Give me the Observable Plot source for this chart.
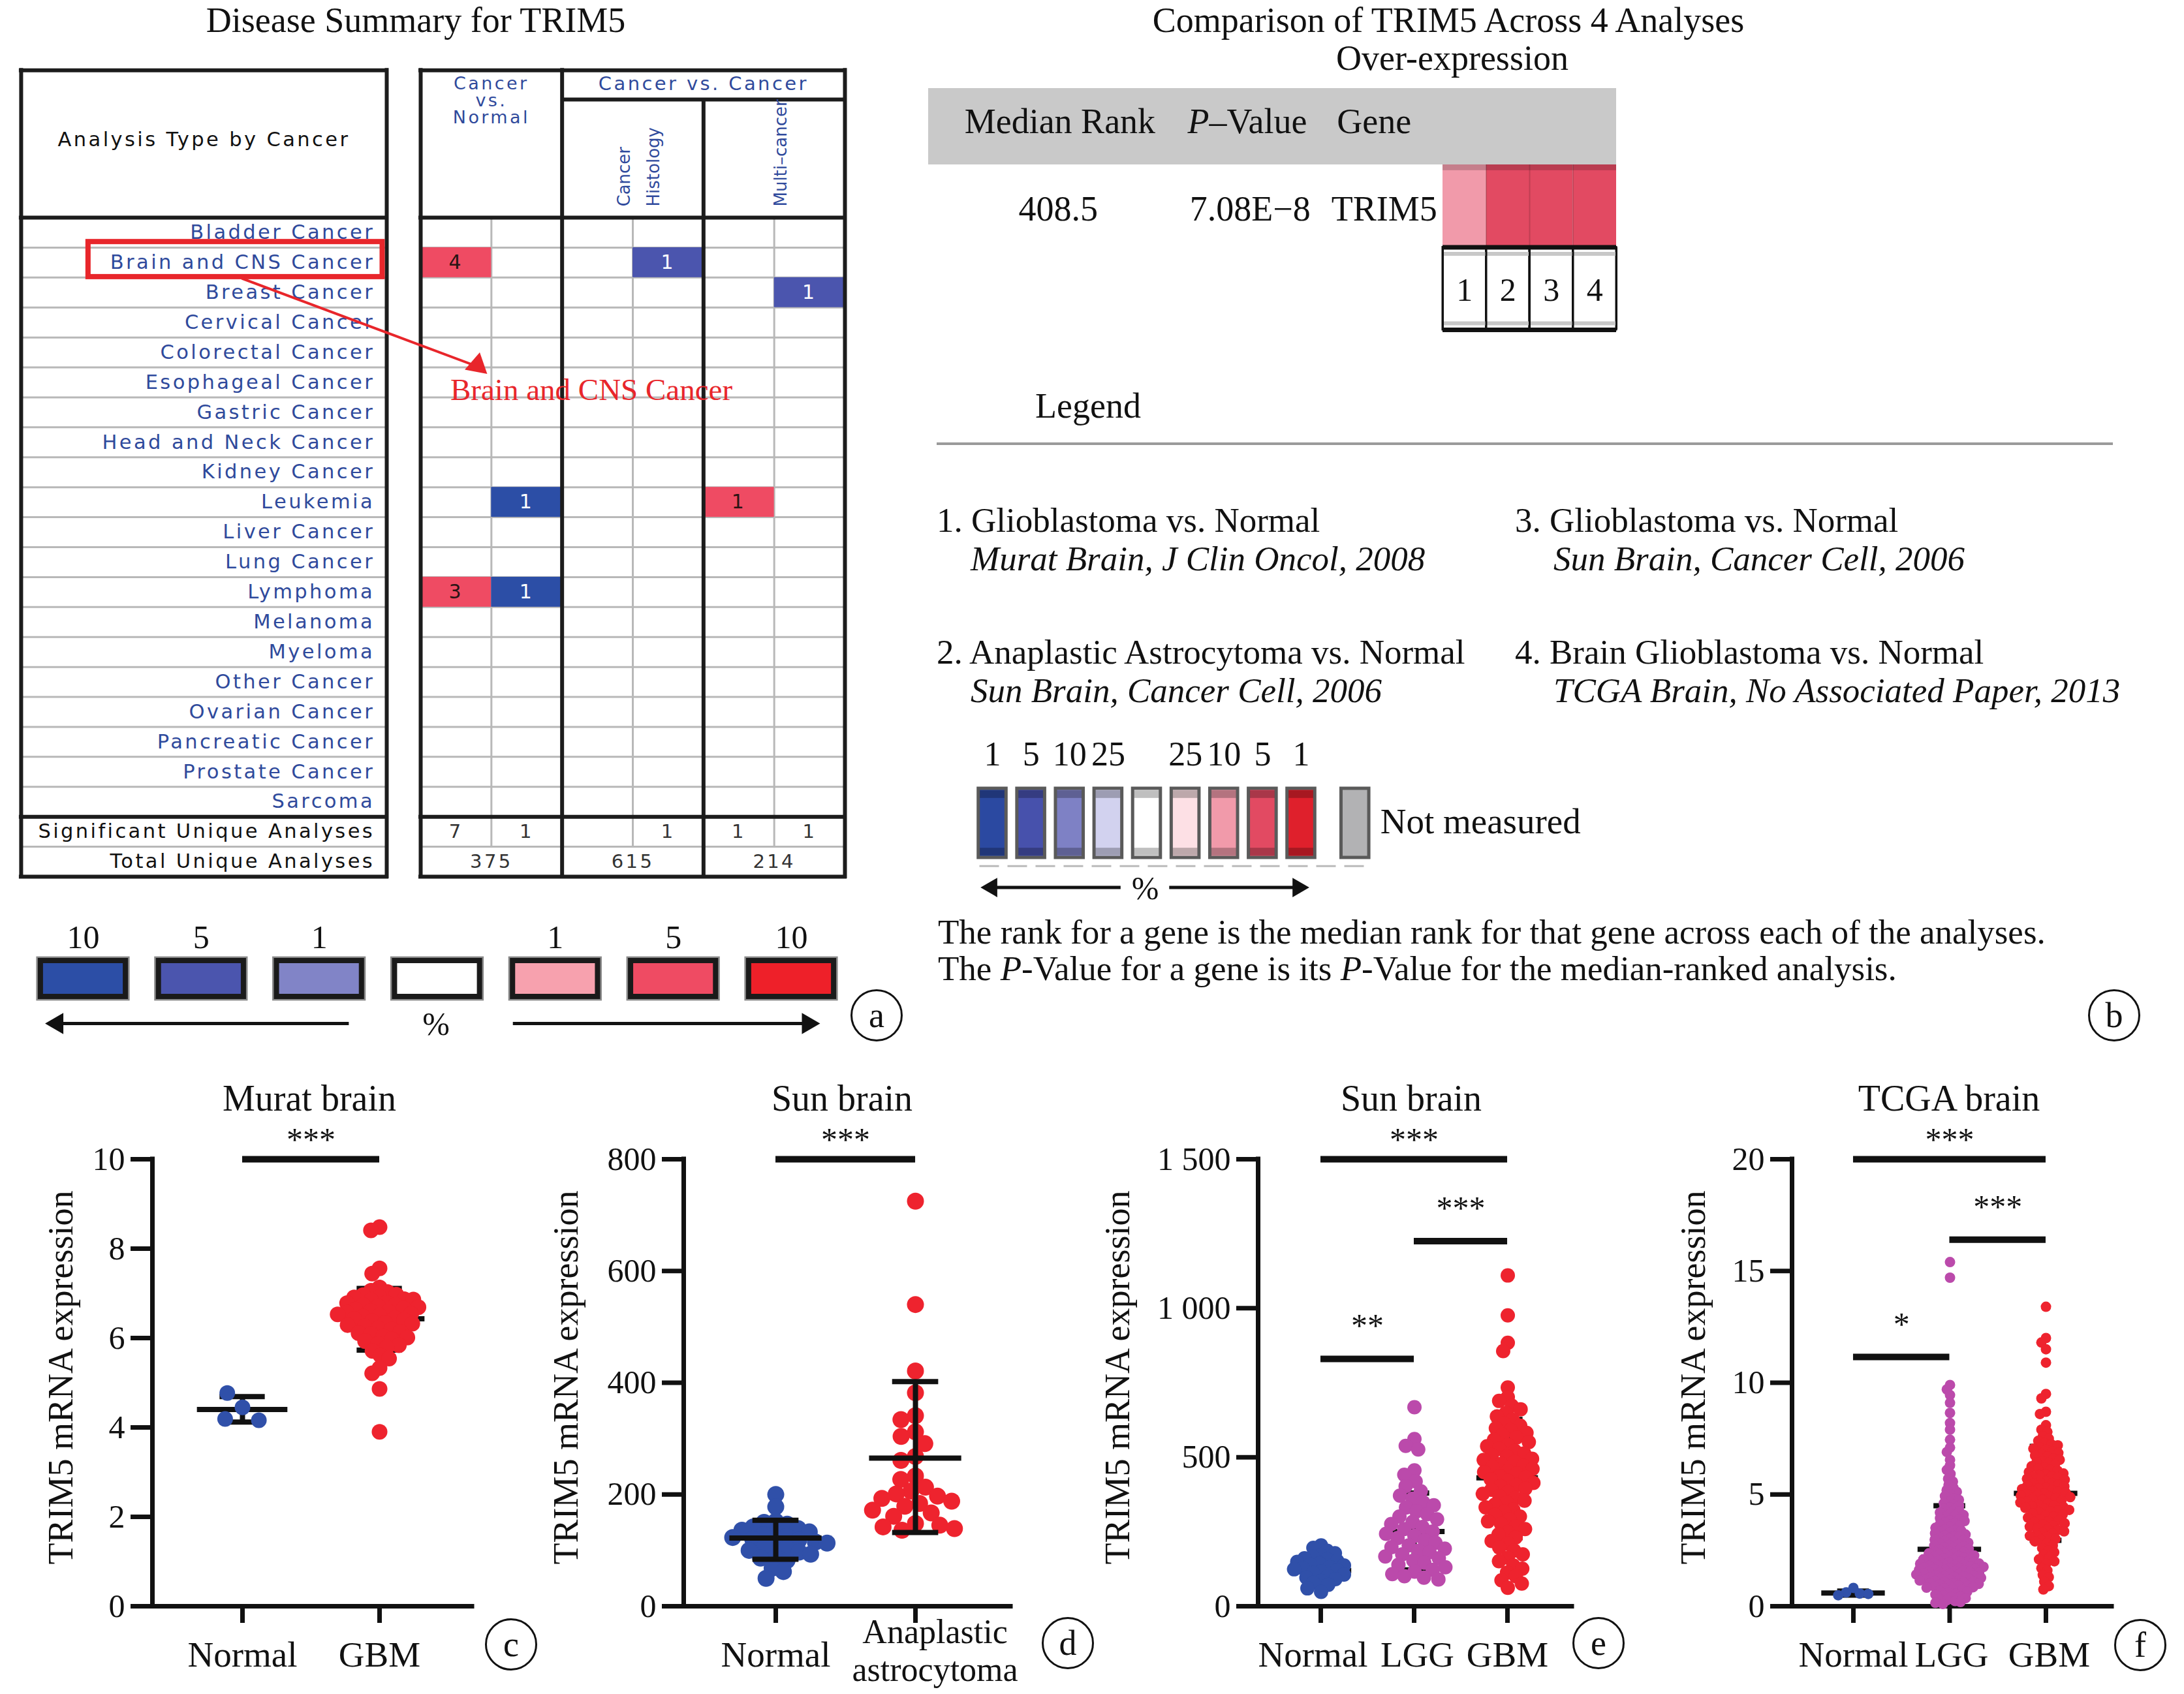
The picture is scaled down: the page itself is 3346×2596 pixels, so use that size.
<!DOCTYPE html>
<html>
<head>
<meta charset="utf-8">
<script src="https://cdn.jsdelivr.net/npm/d3@7"></script>
<script src="https://cdn.jsdelivr.net/npm/@observablehq/plot@0.6"></script>
<style>
html,body{margin:0;padding:0;background:#fff;}
#page{position:relative;width:3346px;height:2596px;overflow:hidden;background:#fff;font-family:"Liberation Serif",serif;color:#111;}
.t{position:absolute;white-space:nowrap;line-height:1;font-family:"Liberation Serif",serif;color:#111;}
.circ{position:absolute;border:3px solid #111;border-radius:50%;display:flex;align-items:center;justify-content:center;font-family:"Liberation Serif",serif;box-sizing:border-box;background:#fff;line-height:1;}
</style>
</head>
<body>
<div id="page"></div>
<script>
// ================= DATA =================
// Panel a: disease summary
const cancers = ["Bladder Cancer","Brain and CNS Cancer","Breast Cancer","Cervical Cancer","Colorectal Cancer","Esophageal Cancer","Gastric Cancer","Head and Neck Cancer","Kidney Cancer","Leukemia","Liver Cancer","Lung Cancer","Lymphoma","Melanoma","Myeloma","Other Cancer","Ovarian Cancer","Pancreatic Cancer","Prostate Cancer","Sarcoma"];
const summaryRows = ["Significant Unique Analyses","Total Unique Analyses"];
const analysisTypes = ["Cancer vs. Normal","Cancer Histology","Multi-cancer"];
// significant cells (column: 0/1 = CvN up/down, 2/3 = Histology up/down, 4/5 = Multi-cancer up/down)
const sigCancer = ["Brain and CNS Cancer","Brain and CNS Cancer","Breast Cancer","Leukemia","Leukemia","Lymphoma","Lymphoma"];
const sigColumn = [0,3,5,1,4,0,1];
const sigCount  = [4,1,1,1,1,3,1];
const sigLevel  = ["up 5","down 5","down 5","down 10","up 5","up 5","down 10"];
const significantCounts = [7,1,null,1,1,1];
const totalCounts = [375,615,214];
const scaleALabels = ["10","5","1","","1","5","10"];
const scaleALevels = ["down 10","down 5","down 1","none","up 1","up 5","up 10"];
const scaleAColors = ["#2c4ea6","#4b55ae","#8184c7","#ffffff","#f7a1ae","#ef4b63","#ee2029"];

// Panel b: comparison across 4 analyses
const bHeader = ["Median Rank","P–Value","Gene"];
const bValues = ["408.5","7.08E−8","TRIM5"];
const bAnalysisIds = ["1","2","3","4"];
const bAnalysisLevel = ["10","5","5","5"];
const bScaleLabels = ["1","5","10","25","","25","10","5","1"];
const bScaleKeys = ["down 1","down 5","down 10","down 25","none","25","10","5","1"];
const bScaleColors = ["#2b49a1","#4751ac","#7e81c5","#d2d2ef","#ffffff","#fde0e5","#f19aaa","#e24a62","#df202c"];
const bNotMeasuredColor = "#b2b2b4";
const bLegendTitles = ["1. Glioblastoma vs. Normal","2. Anaplastic Astrocytoma vs. Normal","3. Glioblastoma vs. Normal","4. Brain Glioblastoma vs. Normal"];
const bLegendSources = ["Murat Brain, J Clin Oncol, 2008","Sun Brain, Cancer Cell, 2006","Sun Brain, Cancer Cell, 2006","TCGA Brain, No Associated Paper, 2013"];

// Panel c: Murat brain
const cGroups = ["Normal","GBM"];
const cNormal = [4.45,4.77,4.19,4.16];
const cGBM = [8.48,8.41,7.56,7.44,7.13,7.06,7.03,6.97,6.96,6.92,6.91,6.87,6.86,6.84,6.79,6.78,6.75,6.74,6.71,6.69,6.66,6.64,6.6,6.59,6.57,6.54,6.53,6.5,6.48,6.45,6.43,6.41,6.38,6.34,6.32,6.29,6.26,6.21,6.19,6.14,6.11,6.09,6.04,6.01,5.97,5.93,5.87,5.84,5.79,5.71,5.61,5.54,5.33,5.21,4.86,3.9];
const cMean = [4.40,6.43], cSdLow = [4.12,5.73], cSdHigh = [4.69,7.11];
const cCompFrom = [0], cCompTo = [1], cCompY = [10], cCompStars = ["***"];

// Panel d: Sun brain (anaplastic astrocytoma)
const dGroups = ["Normal","Anaplastic\nastrocytoma"];
const dNormal = [200,178,152,150,147,142,139,136,133,131,128,125,123,120,118,115,113,110,106,104,100,97,93,88,86,82,68,62,50];
const dAnaplastic = [725,540,421,382,341,334,312,304,291,268,261,233,227,213,206,201,197,193,188,184,179,172,167,161,148,145,142,139,136];
const dMean = [122,265], dSdLow = [84,132], dSdHigh = [154,402];
const dCompFrom = [0], dCompTo = [1], dCompY = [800], dCompStars = ["***"];

// Panel e: Sun brain (LGG / GBM)
const eGroups = ["Normal","LGG","GBM"];
const eNormal = [204,196,186,178,171,166,161,157,152,149,144,140,137,131,128,124,121,116,111,106,101,96,91,85,79,72,60,48];
const eLGG = [668,561,538,526,456,441,419,403,386,371,361,349,339,331,318,309,301,292,283,276,266,259,251,243,236,229,221,213,204,198,193,186,181,174,167,161,153,146,139,131,122,116,108,101,96,90];
const eGBM = [1110,976,884,856,734,702,689,673,661,648,637,626,614,606,597,591,582,574,566,559,551,542,537,528,521,513,508,503,495,491,484,478,471,467,461,454,450,445,437,433,426,421,414,407,402,395,391,383,377,369,363,354,348,341,332,324,317,307,301,291,285,276,267,259,249,241,231,219,211,197,187,174,163,151,137,126,113,101,87,76,62];
const eMean = [120,251,431], eSdLow = [81,122,230], eSdHigh = [157,380,627];
const eCompFrom = [0,1,0], eCompTo = [2,2,1], eCompY = [1500,1225,830], eCompStars = ["***","***","**"];

// Panel f: TCGA brain
const fGroups = ["Normal","LGG","GBM"];
const fNormal = [0.82,0.62,0.57,0.55,0.49];
const fLGG = [15.4,14.7,9.9,9.7,9.45,9.1,8.65,8.2,7.9,7.45,7.1,6.9,6.55,6.3,6.1,5.92,5.7,5.58,5.43,5.31,5.2,5.12,5.01,4.93,4.82,4.76,4.68,4.61,4.55,4.49,4.41,4.36,4.29,4.24,4.19,4.13,4.08,4.04,3.99,3.94,3.9,3.84,3.81,3.74,3.7,3.66,3.6,3.56,3.51,3.44,3.41,3.37,3.34,3.29,3.26,3.21,3.17,3.14,3.11,3.06,3.01,2.98,2.94,2.91,2.87,2.84,2.81,2.77,2.74,2.71,2.67,2.64,2.61,2.57,2.55,2.51,2.47,2.44,2.42,2.39,2.37,2.34,2.31,2.29,2.27,2.24,2.21,2.19,2.17,2.14,2.12,2.1,2.07,2.04,2.02,2.0,1.98,1.96,1.93,1.91,1.9,1.87,1.85,1.83,1.81,1.79,1.77,1.76,1.73,1.71,1.7,1.67,1.65,1.63,1.61,1.6,1.57,1.55,1.53,1.51,1.5,1.47,1.45,1.43,1.42,1.39,1.37,1.35,1.33,1.31,1.29,1.27,1.25,1.23,1.21,1.19,1.17,1.15,1.13,1.11,1.09,1.07,1.04,1.02,1.0,0.97,0.94,0.92,0.9,0.87,0.85,0.83,0.8,0.76,0.73,0.69,0.65,0.61,0.56,0.52,0.48,0.45,0.41,0.36,0.32,0.27,0.23,0.19,0.15,0.1];
const fGBM = [13.4,12.0,11.8,11.5,10.9,9.5,9.3,8.7,8.6,8.1,7.9,7.8,7.6,7.5,7.4,7.3,7.24,7.2,7.1,7.05,7.0,6.92,6.86,6.8,6.74,6.7,6.61,6.55,6.5,6.44,6.41,6.32,6.26,6.21,6.15,6.1,6.06,6.0,5.94,5.9,5.86,5.81,5.78,5.74,5.7,5.66,5.6,5.56,5.51,5.48,5.44,5.4,5.36,5.31,5.28,5.24,5.2,5.16,5.11,5.08,5.04,5.01,4.97,4.94,4.9,4.88,4.84,4.8,4.76,4.71,4.68,4.64,4.6,4.55,4.51,4.48,4.44,4.4,4.36,4.31,4.28,4.24,4.2,4.15,4.1,4.05,4.0,3.96,3.9,3.85,3.8,3.76,3.71,3.65,3.6,3.56,3.5,3.45,3.41,3.35,3.3,3.26,3.2,3.15,3.1,3.01,2.95,2.9,2.8,2.71,2.6,2.5,2.41,2.3,2.2,2.1,2.01,1.9,1.7,1.6,1.4,1.3,1.1,0.9,0.75];
const fMean = [0.59,2.55,5.05], fSdLow = [0.5,0.6,2.95], fSdHigh = [0.68,4.5,7.15];
const fCompFrom = [0,1,0], fCompTo = [2,2,1], fCompY = [20,16.4,11.15], fCompStars = ["***","***","*"];

// ================= HELPERS =================
const SERIF = "Liberation Serif";
const SANS = "DejaVu Sans";
const SANS_NARROW = "DejaVu Sans, sans-serif";
const LBLUE = "#2f4a9c";
const page = document.getElementById("page");
const PSTYLE = "background:transparent;overflow:visible;max-width:none;font-family:'Liberation Serif',serif;color:#111;";

function place(node, left, top) {
  const d = document.createElement("div");
  d.style.cssText = `position:absolute;left:${left}px;top:${top}px;width:${node.getAttribute("width")}px;`;
  d.appendChild(node);
  page.appendChild(d);
  return d;
}
function txt(str, x, y, opts = {}) {
  const {size = 54, anchor = "middle", style = "", html = false} = opts;
  const d = document.createElement("div");
  d.className = "t";
  const tx = anchor === "middle" ? "-50%" : anchor === "end" ? "-100%" : "0";
  d.style.cssText = `left:${x}px;top:${y}px;font-size:${size}px;transform:translate(${tx},-50%);${style}`;
  if (html) d.innerHTML = str; else d.textContent = str;
  page.appendChild(d);
}
function circ(letter, cx, cy, r = 40) {
  const d = document.createElement("div");
  d.className = "circ";
  d.style.cssText = `left:${cx - r}px;top:${cy - r}px;width:${2*r}px;height:${2*r}px;font-size:54px;`;
  d.textContent = letter;
  page.appendChild(d);
}

// ================= PANEL A =================
const rowsAll = cancers.concat(summaryRows);
const rowIndex = new Map(rowsAll.map((r, i) => [r, i]));
const levelColor = new Map(scaleALevels.map((l, i) => [l, scaleAColors[i]]));
const sigIdx = d3.range(sigCancer.length);
const A = {headTop: -4.92, subHead: -3.94, lblL: -5.65, lblR: -0.48};
const GRAY = "#b8b8b8", BLK = "#1c1c1c";
const innerRows = d3.range(1, 22).filter(i => i !== 20);

const plotA = Plot.plot({
  width: 1400, height: 1380, margin: 0, style: PSTYLE,
  x: {domain: [0, 6], range: [644, 1294], axis: null},
  y: {domain: [0, 22], range: [333, 1343], axis: null},
  color: {type: "identity"},
  marks: [
    Plot.ruleY(innerRows, {x1: A.lblL, x2: A.lblR, stroke: GRAY, strokeWidth: 3}),
    Plot.ruleY(innerRows, {x1: 0, x2: 6, stroke: GRAY, strokeWidth: 3}),
    Plot.ruleX([1, 3, 5], {y1: 0, y2: 21, stroke: GRAY, strokeWidth: 3}),
    Plot.rect(sigIdx, {x1: i => sigColumn[i], x2: i => sigColumn[i] + 1, y1: i => rowIndex.get(sigCancer[i]), y2: i => rowIndex.get(sigCancer[i]) + 1, fill: i => levelColor.get(sigLevel[i])}),
    Plot.text(sigIdx, {x: i => sigColumn[i] + 0.5, y: i => rowIndex.get(sigCancer[i]) + 0.5, text: i => String(sigCount[i]), fill: i => sigLevel[i].startsWith("down") ? "#ffffff" : "#2a1414", fontFamily: SANS, fontSize: 30}),
    // summary numbers
    Plot.text(d3.range(6).filter(i => significantCounts[i] != null), {x: i => i + 0.5, y: 20.5, text: i => String(significantCounts[i]), fill: "#333", fontFamily: SANS, fontSize: 29}),
    Plot.text(totalCounts, {x: (d, i) => 2 * i + 1, y: 21.5, text: d => String(d), fill: "#333", fontFamily: SANS, fontSize: 29}),
    // thick borders
    Plot.ruleY([A.headTop, 0, 20, 22], {x1: A.lblL, x2: A.lblR, stroke: BLK, strokeWidth: 6, strokeLinecap: "square"}),
    Plot.ruleY([A.headTop, 0, 20, 22], {x1: 0, x2: 6, stroke: BLK, strokeWidth: 6, strokeLinecap: "square"}),
    Plot.ruleY([A.subHead], {x1: 2, x2: 6, stroke: BLK, strokeWidth: 6}),
    Plot.ruleX([A.lblL, A.lblR], {y1: A.headTop, y2: 22, stroke: BLK, strokeWidth: 6, strokeLinecap: "square"}),
    Plot.ruleX([0, 2, 6], {y1: A.headTop, y2: 22, stroke: BLK, strokeWidth: 6, strokeLinecap: "square"}),
    Plot.ruleX([4], {y1: A.subHead, y2: 22, stroke: BLK, strokeWidth: 6}),
    // row labels
    Plot.text(rowsAll, {x: A.lblR - 0.17, y: (d, i) => i + 0.5, text: d => d, textAnchor: "end", fill: (d, i) => i < 20 ? LBLUE : "#111", fontFamily: SANS, fontSize: 30.5}),
    // header labels
    Plot.text(["Analysis Type by Cancer"], {x: (A.lblL + A.lblR) / 2, y: -2.59, text: d => d, fill: "#111", fontFamily: SANS, fontSize: 30.5}),
    Plot.text(["Cancer", "vs.", "Normal"], {x: 1, y: (d, i) => -4.47 + 0.57 * i, text: d => d, fill: LBLUE, fontFamily: SANS, fontSize: 27}),
    Plot.text(["Cancer vs. Cancer"], {x: 4, y: -4.45, text: d => d, fill: LBLUE, fontFamily: SANS, fontSize: 29}),
    Plot.text(["Cancer", "Histology"], {x: (d, i) => 2.88 + 0.42 * i, y: -0.37, text: d => d, rotate: -90, textAnchor: "start", fill: LBLUE, fontFamily: SANS_NARROW, fontSize: 26}),
    Plot.text(["Multi–cancer"], {x: 5.1, y: -0.37, text: d => d, rotate: -90, textAnchor: "start", fill: LBLUE, fontFamily: SANS_NARROW, fontSize: 26}),
    // red annotation
    Plot.rect([0], {x1: -4.70, x2: -0.54, y1: 0.81, y2: 1.98, stroke: "#e8262b", strokeWidth: 8, fill: "none"}),
    Plot.link([0], {x1: -2.53, y1: 2.03, x2: 0.78, y2: 4.95, stroke: "#e8262b", strokeWidth: 4}),
    Plot.dot([0], {x: 0.8, y: 4.93, symbol: "triangle", r: 13, rotate: 131, fill: "#e8262b"}),
    Plot.text(["Brain and CNS Cancer"], {x: 0.42, y: 5.77, text: d => d, textAnchor: "start", fill: "#e8262b", fontFamily: SERIF, fontSize: 47})
  ]
});
plotA.querySelectorAll(`g[font-family="${SANS}"]`).forEach(g => { g.setAttribute("letter-spacing", "3.4"); g.style.letterSpacing = "3.4px"; });
place(plotA, 0, 0);
txt("Disease Summary for TRIM5", 637, 31, {size: 54});

// legend of panel a
const legA = Plot.plot({
  width: 1400, height: 250, margin: 0, style: PSTYLE,
  x: {domain: [0, 6], range: [127, 1212], axis: null},
  y: {domain: [0, 1], range: [82, 137], axis: null},
  color: {type: "identity"},
  marks: [
    Plot.rect(scaleALabels, {x1: (d, i) => i - 0.385, x2: (d, i) => i + 0.385, y1: -0.08, y2: 1.08, fill: "none", stroke: "#8a8a8a", strokeWidth: 4}),
    Plot.rect(scaleALabels, {x1: (d, i) => i - 0.36, x2: (d, i) => i + 0.36, y1: 0, y2: 1, fill: (d, i) => scaleAColors[i], stroke: "#1a1a1a", strokeWidth: 8}),
    Plot.text(scaleALabels, {x: (d, i) => i, y: -0.65, text: d => d, fontFamily: SERIF, fontSize: 50}),
    Plot.link([0], {x1: 2.25, x2: -0.2, y1: 1.745, y2: 1.745, stroke: "#111", strokeWidth: 5}),
    Plot.dot([0], {x: -0.22, y: 1.745, symbol: "triangle", r: 12, rotate: -90, fill: "#111"}),
    Plot.link([0], {x1: 3.64, x2: 6.12, y1: 1.745, y2: 1.745, stroke: "#111", strokeWidth: 5}),
    Plot.dot([0], {x: 6.14, y: 1.745, symbol: "triangle", r: 12, rotate: 90, fill: "#111"}),
    Plot.text(["%"], {x: 2.99, y: 1.78, text: d => d, fontFamily: SERIF, fontSize: 50})
  ]
});
place(legA, 0, 1390);
circ("a", 1343, 1556);

// ================= PANEL B =================
const bLevelColor = new Map(bScaleKeys.map((k, i) => [k, bScaleColors[i]]));
const bIdx = d3.range(bAnalysisIds.length);
const plotB = Plot.plot({
  width: 1150, height: 440, margin: 0, style: PSTYLE,
  x: {domain: [0, 4], range: [810, 1076], axis: null},
  y: {domain: [0, 2], range: [152, 405], axis: null},
  color: {type: "identity"},
  marks: [
    Plot.rect([0], {x1: -11.85, x2: 4, y1: -0.925, y2: 0, fill: "#c9c9c9"}),
    Plot.text(bHeader, {x: (d, i) => [-11.02, -5.88, -2.44][i], y: -0.52, text: d => d, textAnchor: "start", fontFamily: SERIF, fontSize: 54}),
    Plot.text(bValues, {x: (d, i) => [-8.86, -4.44, -1.35][i], y: 0.54, text: d => d, fontFamily: SERIF, fontSize: 54}),
    Plot.rect(bIdx, {x1: i => i, x2: i => i + 1, y1: 0, y2: 1, fill: i => bLevelColor.get(bAnalysisLevel[i])}),
    Plot.rect(bIdx, {x1: i => i, x2: i => i + 1, y1: 0, y2: 0.07, fill: "#000", fillOpacity: 0.18}),
    Plot.ruleX([1, 2, 3], {y1: 0, y2: 1, stroke: "#000", strokeOpacity: 0.15, strokeWidth: 2}),
    Plot.rect(bIdx, {x1: i => i, x2: i => i + 1, y1: 1, y2: 2, fill: "#fff", stroke: "#111", strokeWidth: 3}),
    Plot.ruleY([1.08, 1.92], {x1: 0, x2: 4, stroke: "#c8c8c8", strokeWidth: 6}),
    Plot.ruleX([0, 1, 2, 3, 4], {y1: 1, y2: 2, stroke: "#111", strokeWidth: 3}),
    Plot.ruleY([1, 2], {x1: 0, x2: 4, stroke: "#111", strokeWidth: 7}),
    Plot.text(bAnalysisIds, {x: (d, i) => i + 0.5, y: 1.52, text: d => d, fontFamily: SERIF, fontSize: 50})
  ]
});
plotB.querySelectorAll("text").forEach(t => {
  if (t.textContent === "P–Value") t.innerHTML = '<tspan font-style="italic">P</tspan>–Value';
});
place(plotB, 1400, 100);
txt("Comparison of TRIM5 Across 4 Analyses", 2219, 31, {size: 54});
txt("Over-expression", 2225, 89, {size: 54});
txt("Legend", 1667, 622, {size: 54});
(function () {
  const hr = document.createElement("div");
  hr.style.cssText = "position:absolute;left:1435px;top:678px;width:1802px;height:4px;background:#9a9a9a;";
  page.appendChild(hr);
})();
const bEntryX = [1435, 1435, 2321, 2321], bEntryY = [797, 999, 797, 999];
bLegendTitles.forEach((t, i) => {
  txt(t, bEntryX[i], bEntryY[i], {size: 53, anchor: "start"});
  txt(bLegendSources[i], bEntryX[i] + (i < 2 ? 52 : 59), bEntryY[i] + 59, {size: 53, anchor: "start", style: "font-style:italic;"});
});

const scaleB = Plot.plot({
  width: 900, height: 300, margin: 0, style: PSTYLE,
  x: {domain: [0, 8], range: [120, 593], axis: null},
  y: {domain: [0, 1], range: [108, 214], axis: null},
  color: {type: "identity"},
  marks: [
    Plot.rect(bScaleLabels, {x1: (d, i) => i - 0.36, x2: (d, i) => i + 0.36, y1: 0, y2: 1, fill: (d, i) => bScaleColors[i], stroke: "#5a5a5a", strokeWidth: 5}),
    Plot.rect(bScaleLabels, {x1: (d, i) => i - 0.32, x2: (d, i) => i + 0.32, y1: 0.03, y2: 0.14, fill: "#000", fillOpacity: 0.25}),
    Plot.rect(bScaleLabels, {x1: (d, i) => i - 0.32, x2: (d, i) => i + 0.32, y1: 0.86, y2: 0.97, fill: "#000", fillOpacity: 0.25}),
    Plot.rect(["Not measured"], {x1: 9.4 - 0.36, x2: 9.4 + 0.36, y1: 0, y2: 1, fill: bNotMeasuredColor, stroke: "#5a5a5a", strokeWidth: 5}),
    Plot.ruleY([1.12], {x1: -0.33, x2: 9.7, stroke: "#bbb", strokeWidth: 3, strokeDasharray: "30 13"}),
    Plot.text(bScaleLabels, {x: (d, i) => i, y: -0.49, text: d => d, fontFamily: SERIF, fontSize: 52}),
    Plot.text(["Not measured"], {x: 10.05, y: 0.48, text: d => d, textAnchor: "start", fontFamily: SERIF, fontSize: 55}),
    Plot.link([0], {x1: 3.32, x2: 0.0, y1: 1.43, y2: 1.43, stroke: "#111", strokeWidth: 5}),
    Plot.dot([0], {x: -0.02, y: 1.43, symbol: "triangle", r: 11, rotate: -90, fill: "#111"}),
    Plot.link([0], {x1: 4.58, x2: 7.9, y1: 1.43, y2: 1.43, stroke: "#111", strokeWidth: 5}),
    Plot.dot([0], {x: 7.92, y: 1.43, symbol: "triangle", r: 11, rotate: 90, fill: "#111"}),
    Plot.text(["%"], {x: 3.96, y: 1.45, text: d => d, fontFamily: SERIF, fontSize: 50})
  ]
});
place(scaleB, 1400, 1100);
txt("The rank for a gene is the median rank for that gene across each of the analyses.", 1437, 1428, {size: 53, anchor: "start"});
txt("The <i>P</i>-Value for a gene is its <i>P</i>-Value for the median-ranked analysis.", 1437, 1484, {size: 53, anchor: "start", html: true});
circ("b", 3239, 1556);

// ================= PANELS C–F =================
const BLUE = "#3050a9", PURPLE = "#bb4aab", RED = "#ee232e";
const spaceFmt = d => d >= 1000 ? `${Math.floor(d / 1000)} ${String(d % 1000).padStart(3, "0")}` : String(d);
const panels = [
  {title: "Murat brain", titleX: 474, groups: cGroups, values: [cNormal, cGBM], colors: [BLUE, RED], mean: cMean, sdLow: cSdLow, sdHigh: cSdHigh,
   comp: [cCompFrom, cCompTo, cCompY, cCompStars], yMax: 10, yTicks: [0, 2, 4, 6, 8, 10], fmt: String,
   tick0: 371, spacing: 210, padL: 0.657, padR: 0.676, r: 12, overlap: [8, -10], yLabelOffset: 140, barsOnTop: false, labelDx: [0, 0], labelDy: [73, 73], labelSize: [55, 55], letter: ["c", 783, 2520]},
  {title: "Sun brain", titleX: 1290, groups: dGroups, values: [dNormal, dAnaplastic], colors: [BLUE, RED], mean: dMean, sdLow: dSdLow, sdHigh: dSdHigh,
   comp: [dCompFrom, dCompTo, dCompY, dCompStars], yMax: 800, yTicks: [0, 200, 400, 600, 800], fmt: String,
   tick0: 1188, spacing: 214, padL: 0.659, padR: 0.682, r: 13, overlap: [-8, -3], yLabelOffset: 180, barsOnTop: true, labelDx: [0, 30], labelDy: [73, 67], labelSize: [55, 52], letter: ["d", 1636, 2518]},
  {title: "Sun brain", titleX: 2162, groups: eGroups, values: [eNormal, eLGG, eGBM], colors: [BLUE, PURPLE, RED], mean: eMean, sdLow: eSdLow, sdHigh: eSdHigh,
   comp: [eCompFrom, eCompTo, eCompY, eCompStars], yMax: 1500, yTicks: [0, 500, 1000, 1500], fmt: spaceFmt,
   tick0: 2023, spacing: 143, padL: 0.671, padR: 0.692, r: 11, overlap: [-9.6, -5], overlap3: -7.4, yLabelOffset: 215, barsOnTop: false, labelDx: [-12, 5, 0], labelDy: [73, 73, 73], labelSize: [55, 55, 55], letter: ["e", 2449, 2518]},
  {title: "TCGA brain", titleX: 2986, groups: fGroups, values: [fNormal, fLGG, fGBM], colors: [BLUE, PURPLE, RED], mean: fMean, sdLow: fSdLow, sdHigh: fSdHigh,
   comp: [fCompFrom, fCompTo, fCompY, fCompStars], yMax: 20, yTicks: [0, 5, 10, 15, 20], fmt: String,
   tick0: 2839, spacing: 147.5, padL: 0.637, padR: 0.685, r: 8, overlap: [-3, -7.6], overlap3: -6.2, yLabelOffset: 151, barsOnTop: false, labelDx: [0, 3, 5], labelDy: [73, 73, 73], labelSize: [55, 55, 55], letter: ["f", 3279, 2521]}
];

const TOP = 1640, H = 956, MT = 136, MB = 135, ML = 300, MR = 40;
panels.forEach(p => {
  const n = p.groups.length;
  const idx = d3.range(n);
  const frameW = p.spacing * (n - 1 + p.padL + p.padR);
  const W = Math.round(ML + frameW + MR);
  const left = p.tick0 - p.padL * p.spacing - ML;
  const errMarks = [
    Plot.ruleY(idx, {y: i => p.mean[i], x1: i => i - 0.33, x2: i => i + 0.33, stroke: "#111", strokeWidth: 8}),
    Plot.ruleY(idx, {y: i => p.sdHigh[i], x1: i => i - 0.165, x2: i => i + 0.165, stroke: "#111", strokeWidth: 8}),
    Plot.ruleY(idx, {y: i => p.sdLow[i], x1: i => i - 0.165, x2: i => i + 0.165, stroke: "#111", strokeWidth: 8}),
    Plot.ruleX(idx, {x: i => i, y1: i => p.sdLow[i], y2: i => p.sdHigh[i], stroke: "#111", strokeWidth: 8})
  ];
  const [cf, ct, cy, cs] = p.comp;
  const compIdx = d3.range(cf.length);
  const baseMarks = [
    Plot.axisY({ticks: p.yTicks, tickFormat: p.fmt, tickSize: 33, tickPadding: 9, strokeWidth: 7, fontSize: 50, fontFamily: SERIF, label: null}),
    Plot.axisX({ticks: idx, tickFormat: () => "", tickSize: 26, strokeWidth: 7, label: null}),
    Plot.ruleX([-p.padL], {stroke: "#111", strokeWidth: 7, strokeLinecap: "square"}),
    Plot.ruleY([0], {stroke: "#111", strokeWidth: 7, strokeLinecap: "square"}),
    ...idx.map(i => Plot.text([p.groups[i]], {x: () => i, y: () => 0, text: d => d, dx: p.labelDx[i], dy: p.labelDy[i], fontFamily: SERIF, fontSize: p.labelSize[i], lineHeight: 1.12})),
    Plot.text(["TRIM5 mRNA expression"], {frameAnchor: "left", textAnchor: "middle", text: d => d, rotate: -90, dx: -p.yLabelOffset, dy: -8, fontFamily: SERIF, fontSize: 54}),
    Plot.ruleY(compIdx, {y: i => cy[i], x1: i => cf[i], x2: i => ct[i], stroke: "#111", strokeWidth: 10}),
    ...compIdx.map(i => Plot.text([cs[i]], {x: () => (cf[i] + ct[i]) / 2, y: () => cy[i], text: d => d, dy: cy[i] === p.yMax ? -30 : -50, fontFamily: SERIF, fontSize: 50}))
  ];
  const main = Plot.plot({
    width: W, height: H, marginLeft: ML, marginRight: MR, marginTop: MT, marginBottom: MB, style: PSTYLE,
    x: {domain: [-p.padL, n - 1 + p.padR], axis: null},
    y: {domain: [0, p.yMax], axis: null},
    marks: p.barsOnTop ? baseMarks : baseMarks.concat(errMarks)
  });
  place(main, left, TOP);
  idx.forEach(i => {
    const wG = Math.round(p.spacing);
    const pad = i < 2 ? p.overlap[i] : p.overlap3;
    const dots = Plot.plot({
      width: wG, height: H, marginLeft: 0, marginRight: 0, marginTop: MT, marginBottom: MB, style: PSTYLE,
      y: {domain: [0, p.yMax], axis: null},
      marks: [Plot.dot(p.values[i], Plot.dodgeX({anchor: "middle", padding: pad}, {y: d => d, r: p.r, fill: p.colors[i]}))]
    });
    place(dots, p.tick0 + i * p.spacing - wG / 2, TOP);
  });
  if (p.barsOnTop) {
    const over = Plot.plot({
      width: W, height: H, marginLeft: ML, marginRight: MR, marginTop: MT, marginBottom: MB, style: PSTYLE,
      x: {domain: [-p.padL, n - 1 + p.padR], axis: null},
      y: {domain: [0, p.yMax], axis: null},
      marks: errMarks
    });
    place(over, left, TOP);
  }
  txt(p.title, p.titleX, 1683, {size: 56});
  circ(p.letter[0], p.letter[1], p.letter[2]);
});
</script>
</body>
</html>
